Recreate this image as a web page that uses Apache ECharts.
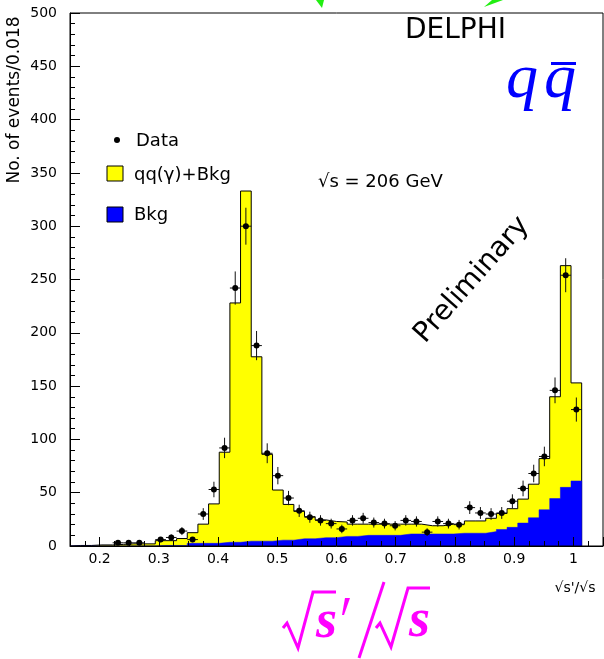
<!DOCTYPE html>
<html>
<head>
<meta charset="utf-8">
<script src="https://cdn.jsdelivr.net/npm/echarts@6/dist/echarts.min.js"></script>
<style>html,body{margin:0;padding:0;background:#fff}#c{width:604px;height:659px}</style>
</head>
<body>
<div id="c"></div>
<script>
// Histogram binning (sqrt(s')/sqrt(s), bins of 0.018)
const binStart = 0.15;
const binWidth = 0.018;
const xTickLabels = ['0.2','0.3','0.4','0.5','0.6','0.7','0.8','0.9','1'];
const yTickLabels = [0,50,100,150,200,250,300,350,400,450,500];

// qq(gamma)+Bkg total expectation per bin
const totalMC = [0.5,0.5,1,1,1.5,2,2,2,5,5,7,12.5,20.5,39.5,88,228,333,177.5,86,52.5,39,32.5,27.5,24.5,23,22.5,20.5,20.5,20.5,20.5,20.5,20.5,20.5,19,19,20.5,20.5,23.5,23.5,26,30.5,35,44,58,82,140,263,153];
// Background per bin
const bkgMC = [0,0,0,0,0,0,0,0,0.5,0.5,0.5,2.5,2.5,2.5,3.5,3.5,4.5,4.5,4.5,5.5,5.5,6.8,6.8,7.8,7.8,9,9,10,10,10,10,11.3,11.3,11.3,11.3,11.3,12,12,12,13.5,15.5,17.5,21.5,26.5,34,44.5,55,61];
// Data counts per bin (null = no point drawn)
const dataCounts = [null,null,null,null,3,3,3,null,6,8,14,6,30,53,92,242,300,188,87,66,45,33,27,24,21,16,24,26,22,21,19,24,23,13,23,21,20,36,31,30,31,42,54,68,84,146,254,128];

function stepData(vals){
  const out = [[binStart, 0]];
  for (let k = 0; k < vals.length; k++) out.push([+(binStart + k*binWidth).toFixed(4), vals[k]]);
  const end = +(binStart + vals.length*binWidth).toFixed(4);
  out.push([end, vals[vals.length-1]]);
  out.push([end, 0]);
  return out;
}
const pts = [];
dataCounts.forEach((v,k)=>{ if (v!==null) pts.push([+(binStart + (k+0.5)*binWidth).toFixed(4), v]); });

const FONT = 'DejaVu Sans';
const chart = echarts.init(document.getElementById('c'), null, {renderer:'canvas'});
chart.setOption({
  animation:false,
  backgroundColor:'#fff',
  grid:{left:70,right:1,top:13,bottom:113,show:true,borderColor:'#000',borderWidth:1,backgroundColor:'transparent',z:5},
  xAxis:{type:'value',min:0.15,max:1.05,splitNumber:9,z:6,
    axisLine:{show:true,onZero:false,lineStyle:{color:'#000',width:1}},
    axisTick:{show:true,inside:true,length:9,lineStyle:{color:'#000'}},
    minorTick:{show:true,splitNumber:4,length:5,lineStyle:{color:'#000'}},
    splitLine:{show:false},
    axisLabel:{showMinLabel:false,showMaxLabel:false,color:'#000',fontFamily:FONT,fontSize:14,margin:6,
      formatter:function(v){const s=String(+v.toFixed(2));return xTickLabels.indexOf(s)>=0?s:'';}}
  },
  yAxis:{type:'value',min:0,max:500,interval:50,z:6,
    axisLine:{show:true,lineStyle:{color:'#000',width:1}},
    axisTick:{show:true,inside:true,length:10,lineStyle:{color:'#000'}},
    minorTick:{show:true,splitNumber:5,length:5,lineStyle:{color:'#000'}},
    splitLine:{show:false},
    axisLabel:{color:'#000',fontFamily:FONT,fontSize:14,margin:13,
      formatter:function(v){return yTickLabels.indexOf(v)>=0?String(v):'';}}
  },
  series:[
    {name:'qq(γ)+Bkg',type:'line',step:'end',data:stepData(totalMC),symbol:'none',z:2,
      lineStyle:{color:'#000',width:1},areaStyle:{color:'#ffff00',opacity:1,origin:'start'}},
    {name:'Bkg',type:'line',step:'end',data:stepData(bkgMC),symbol:'none',z:3,
      lineStyle:{color:'#0000ff',width:0.5},areaStyle:{color:'#0000ff',opacity:1,origin:'start'}},
    {name:'Data',type:'custom',z:4,data:pts,
      renderItem:function(params, api){
        const x=api.value(0), y=api.value(1), e=Math.sqrt(y);
        const c=api.coord([x,y]);
        const l=api.coord([x-binWidth/2,y]), r=api.coord([x+binWidth/2,y]);
        const t=api.coord([x,y+e]), b=api.coord([x,Math.max(0,y-e)]);
        return {type:'group',children:[
          {type:'line',shape:{x1:l[0],y1:c[1],x2:r[0],y2:c[1]},style:{stroke:'#111',lineWidth:1}},
          {type:'line',shape:{x1:c[0],y1:t[1],x2:c[0],y2:b[1]},style:{stroke:'#111',lineWidth:1}},
          {type:'circle',shape:{cx:c[0],cy:c[1],r:3},style:{fill:'#000'}}
        ]};
      }}
  ],
  graphic:[
    // green arrow tips at top
    {type:'polygon',shape:{points:[[316,0],[324,0],[322,8]]},style:{fill:'#22ee11'}},
    {type:'polygon',shape:{points:[[492,0],[503,0],[484,7]]},style:{fill:'#22ee11'}},
    {type:'text',left:405,top:17,style:{text:'DELPHI',font:'28px "DejaVu Sans"',fill:'#000'}},
    {type:'text',left:506,top:48,style:{text:'q',font:'italic 64px "Liberation Serif"',fill:'#0000ff'}},
    {type:'text',left:544,top:48,style:{text:'q',font:'italic 64px "Liberation Serif"',fill:'#0000ff'}},
    {type:'rect',shape:{x:551,y:62,width:25,height:3},style:{fill:'#0000ff'}},
    // y axis title
    {type:'text',x:15,y:100,rotation:Math.PI/2,style:{text:'No. of events/0.018',font:'17px "DejaVu Sans"',fill:'#000',align:'center',verticalAlign:'middle'}},
    // legend
    {type:'circle',shape:{cx:117,cy:140,r:3},style:{fill:'#000'}},
    {type:'text',x:136,y:141,style:{text:'Data',font:'18px "DejaVu Sans"',fill:'#000',verticalAlign:'middle'}},
    {type:'rect',shape:{x:107,y:166,width:16,height:15},style:{fill:'#ffff00',stroke:'#000',lineWidth:1}},
    {type:'text',x:134,y:175,style:{text:'qq(γ)+Bkg',font:'18px "DejaVu Sans"',fill:'#000',verticalAlign:'middle'}},
    {type:'rect',shape:{x:107,y:207,width:16,height:15},style:{fill:'#0000ff',stroke:'#000',lineWidth:1}},
    {type:'text',x:134,y:215,style:{text:'Bkg',font:'18px "DejaVu Sans"',fill:'#000',verticalAlign:'middle'}},
    {type:'text',x:318,y:182,style:{text:'√s = 206 GeV',font:'18px "DejaVu Sans"',fill:'#000',verticalAlign:'middle'}},
    {type:'text',x:472,y:280,rotation:48.5*Math.PI/180,style:{text:'Preliminary',font:'28px "DejaVu Sans"',fill:'#000',align:'center',verticalAlign:'middle'}},
    {type:'text',x:575,y:588,style:{text:"√s'/√s",font:'14px "DejaVu Sans"',fill:'#000',align:'center',verticalAlign:'middle'}},
    // magenta big axis formula
    {type:'polyline',shape:{points:[[283,628],[287,623],[298,648],[313,592],[336,592]]},style:{stroke:'#ff00ff',lineWidth:3,fill:null}},
    {type:'text',x:316,y:623,style:{text:'s',font:'italic bold 54px "Liberation Serif"',fill:'#ff00ff',verticalAlign:'middle'}},
    {type:'polygon',shape:{points:[[345,598],[350,598],[344,615],[342,615]]},style:{fill:'#ff00ff'}},
    {type:'line',shape:{x1:384,y1:582,x2:359,y2:658},style:{stroke:'#ff00ff',lineWidth:3}},
    {type:'polyline',shape:{points:[[376,628],[380,623],[391,647],[408,588],[430,588]]},style:{stroke:'#ff00ff',lineWidth:3,fill:null}},
    {type:'text',x:409,y:622,style:{text:'s',font:'italic bold 54px "Liberation Serif"',fill:'#ff00ff',verticalAlign:'middle'}}
  ]
});
</script>
</body>
</html>
